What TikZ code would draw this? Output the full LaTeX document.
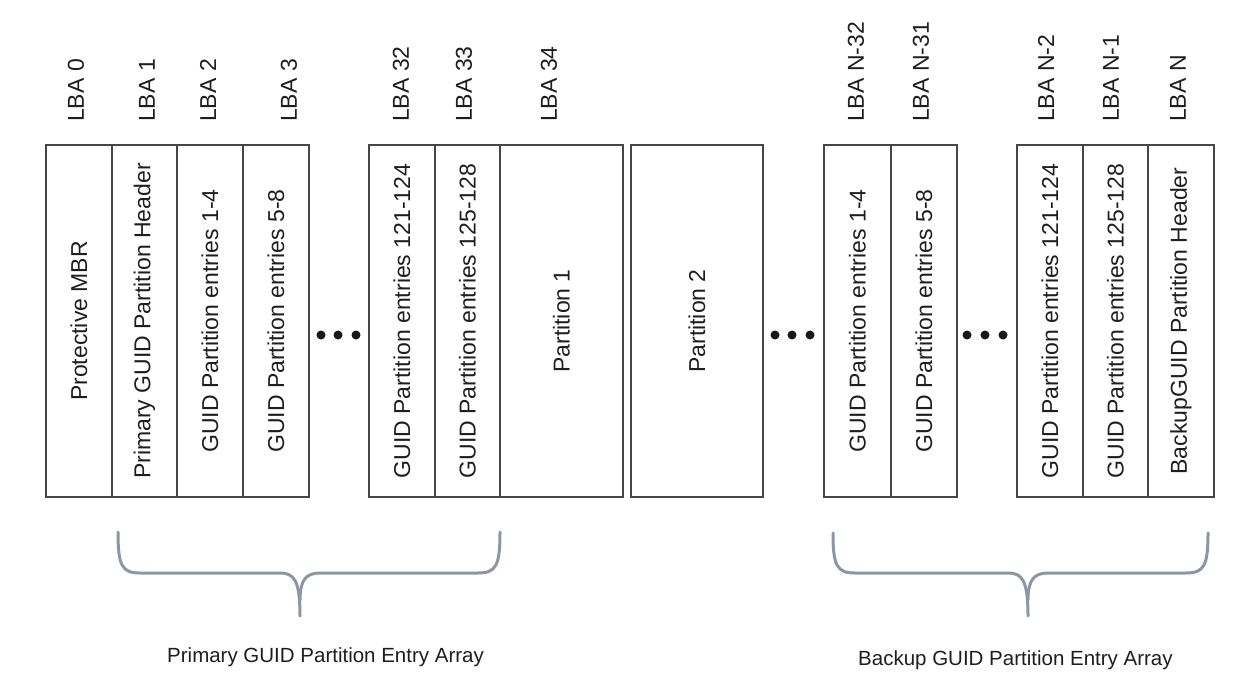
\documentclass[tikz,border=0pt]{standalone}
\usepackage{fontspec}
\setmainfont{Liberation Sans}
\definecolor{boxline}{RGB}{70,70,70}
\definecolor{txt}{RGB}{30,30,30}
\definecolor{bracecol}{RGB}{140,150,165}
\begin{document}
\begin{tikzpicture}[x=1pt,y=-1pt,
  cell/.style={draw=boxline, line width=1.4pt, rotate=90, inner sep=0pt, outer sep=0pt,
    minimum width=352pt, text=txt, font=\fontsize{23}{23}\selectfont},
  lba/.style={rotate=90, anchor=west, inner sep=0pt, text=txt, font=\fontsize{23}{23}\selectfont},
  dot/.style={circle, fill=black!90, inner sep=0pt, minimum size=9pt},
  bracepath/.style={draw=bracecol, line width=3pt, line cap=round},
  caption/.style={anchor=west, inner sep=0pt, text=txt, font=\fontsize{20.5}{21}\selectfont}]
\useasboundingbox (0,0) rectangle (1250,674);
\newcommand{\mycell}[4]{\node[cell, minimum height={#3-#2}] (#1) at ({(#2+#3)/2},321) {#4};}
\mycell{c0}{46}{112}{Protective MBR}
\mycell{c1}{112}{177}{Primary GUID Partition Header}
\mycell{c2}{177}{243}{GUID Partition entries 1-4}
\mycell{c3}{243}{309}{GUID Partition entries 5-8}
\mycell{c32}{369}{435}{GUID Partition entries 121-124}
\mycell{c33}{435}{500}{GUID Partition entries 125-128}
\mycell{p1}{500}{623}{Partition 1}
\mycell{p2}{631}{763}{Partition 2}
\mycell{n32}{824}{891}{GUID Partition entries 1-4}
\mycell{n31}{891}{957}{GUID Partition entries 5-8}
\mycell{n2}{1017}{1083}{GUID Partition entries 121-124}
\mycell{n1}{1083}{1148}{GUID Partition entries 125-128}
\mycell{n0}{1148}{1214}{BackupGUID Partition Header}
% LBA labels
\node[lba] (l0) at (76,122) {LBA 0};
\node[lba] (l1) at (147,122) {LBA 1};
\node[lba] (l2) at (208,122) {LBA 2};
\node[lba] (l3) at (289,122) {LBA 3};
\node[lba] (l32) at (401,122) {LBA 32};
\node[lba] (l33) at (464,122) {LBA 33};
\node[lba] (l34) at (549,122) {LBA 34};
\node[lba] (ln32) at (856,122) {LBA N-32};
\node[lba] (ln31) at (921,122) {LBA N-31};
\node[lba] (ln2) at (1046,122) {LBA N-2};
\node[lba] (ln1) at (1111,122) {LBA N-1};
\node[lba] (ln0) at (1178,122) {LBA N};
% dots
\foreach \i/\x in {a1/321,a2/338,a3/356,b1/775,b2/792,b3/810,d1/967,d2/985,d3/1003}
  \node[dot] (dot\i) at (\x,335) {};
% braces
\draw[bracepath] (118,532) .. controls (118,566) and (122,573) .. (140,573) -- (280,573)
  .. controls (294,573) and (300,580) .. (300,616);
\draw[bracepath] (500,532) .. controls (500,566) and (496,573) .. (478,573) -- (320,573)
  .. controls (306,573) and (300,580) .. (300,600);
\draw[bracepath] (833,533) .. controls (833,566) and (837,573) .. (855,573) -- (1008,573)
  .. controls (1022,573) and (1028,580) .. (1028,616);
\draw[bracepath] (1208,533) .. controls (1208,566) and (1204,573) .. (1186,573) -- (1048,573)
  .. controls (1034,573) and (1028,580) .. (1028,600);
% captions
\node[caption] (cap1) at (167,657) {Primary GUID Partition Entry Array};
\node[caption] (cap2) at (858,660) {Backup GUID Partition Entry Array};
\end{tikzpicture}
\end{document}
